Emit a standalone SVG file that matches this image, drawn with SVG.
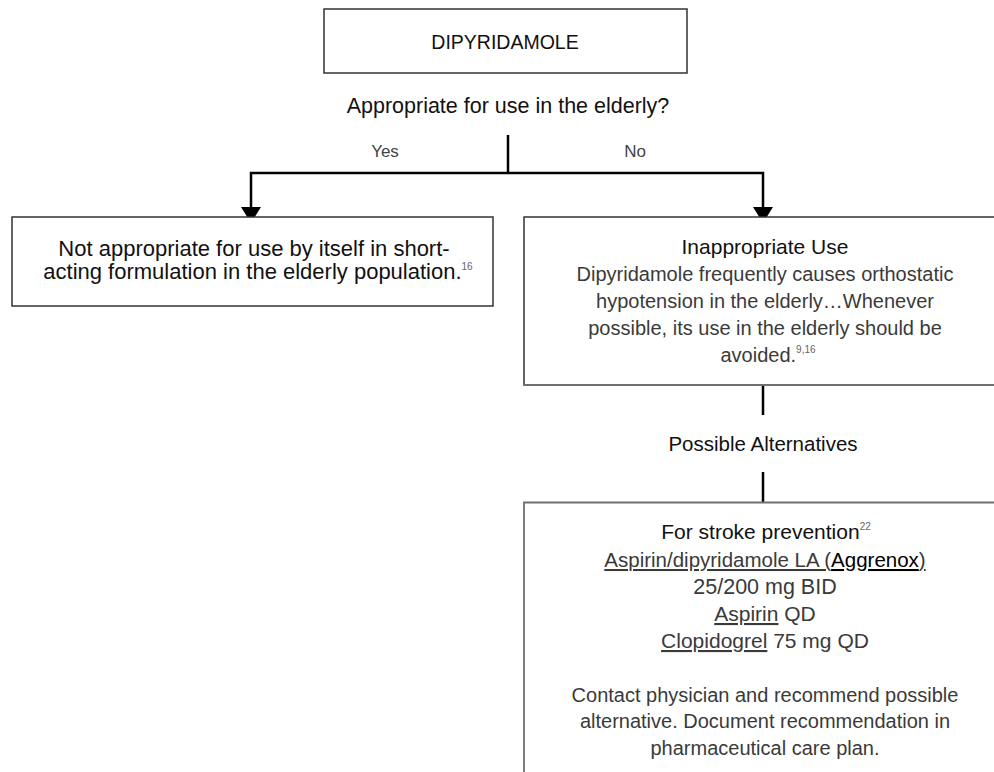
<svg xmlns="http://www.w3.org/2000/svg" width="994" height="772" viewBox="0 0 994 772">
  <style>
    text { font-family: "Liberation Sans", Arial, sans-serif; text-anchor: middle; }
    .head { fill: #111; font-size: 21px; }
    .light { fill: #3a3a3a; font-size: 20px; }
    .yn { fill: #444; font-size: 17px; }
    .sup { font-size: 10px; fill: #666; }
    .box { fill: #fff; stroke: #333; stroke-width: 1.5; }
    .gray { fill: none; stroke: #707070; stroke-width: 1.8; }
    .conn { fill: none; stroke: #000; stroke-width: 2.5; }
    .u { text-decoration: underline; }
  </style>
  <defs>
    <marker id="arrow" markerUnits="userSpaceOnUse" viewBox="0 0 16 20" markerWidth="16" markerHeight="20" refX="16" refY="10" orient="auto">
      <path d="M0,0 L16,10 L0,20 Z" fill="#000"/>
    </marker>
  </defs>
  <rect width="994" height="772" fill="#fff"/>

  <g id="connectors">
    <path class="conn" d="M508,135 V173"/>
    <path class="conn" d="M508,173 H251 V223" marker-end="url(#arrow)"/>
    <path class="conn" d="M508,173 H763 V223" marker-end="url(#arrow)"/>
    <path class="conn" d="M763,385 V415"/>
    <path class="conn" d="M763,472 V502"/>
  </g>

  <g id="node-dipyridamole">
    <rect class="box" x="324" y="9" width="363" height="64"/>
    <text class="head" x="505" y="49" style="font-size:19.5px">DIPYRIDAMOLE</text>
  </g>

  <g id="question">
    <text class="head" x="508" y="113" style="font-size:21.5px">Appropriate for use in the elderly?</text>
  </g>

  <g id="label-yes">
    <text class="yn" x="385" y="157">Yes</text>
  </g>
  <g id="label-no">
    <text class="yn" x="635" y="157">No</text>
  </g>

  <g id="node-not-appropriate">
    <rect class="box" x="12" y="217" width="481" height="89"/>
    <text class="head" x="254" y="256" style="font-size:22px">Not appropriate for use by itself in short-</text>
    <text class="head" x="258" y="279" style="font-size:22px">acting formulation in the elderly population.<tspan class="sup" dy="-9">16</tspan></text>
  </g>

  <g id="node-inappropriate-use">
    <path class="box" d="M1000,217 H524 V385 H1000"/>
    <path class="gray" d="M524,385 H1000"/>
    <text class="head" x="765" y="254">Inappropriate Use</text>
    <text class="light" x="765" y="281">Dipyridamole frequently causes orthostatic</text>
    <text class="light" x="765" y="308">hypotension in the elderly…Whenever</text>
    <text class="light" x="765" y="335">possible, its use in the elderly should be</text>
    <text class="light" x="768" y="362">avoided.<tspan class="sup" dy="-9">9,16</tspan></text>
  </g>

  <g id="possible-alternatives">
    <text class="head" x="763" y="451" style="font-size:20.5px">Possible Alternatives</text>
  </g>

  <g id="node-alternatives">
    <path class="gray" d="M1000,502.5 H524 V780"/>
    <text class="head" x="766" y="539">For stroke prevention<tspan class="sup" dy="-9">22</tspan></text>
    <text class="light" x="765" y="567" style="font-size:20.5px"><tspan class="u">Aspirin/dipyridamole LA (</tspan><tspan class="u" fill="#000">Aggrenox</tspan><tspan class="u">)</tspan></text>
    <text class="light" x="765" y="594" style="font-size:21.5px">25/200 mg BID</text>
    <text class="light" x="765" y="621" style="font-size:21px"><tspan class="u">Aspirin</tspan> QD</text>
    <text class="light" x="765" y="648" style="font-size:21px"><tspan class="u">Clopidogrel</tspan> 75 mg QD</text>
    <text class="light" x="765" y="702">Contact physician and recommend possible</text>
    <text class="light" x="765" y="728">alternative. Document recommendation in</text>
    <text class="light" x="765" y="755">pharmaceutical care plan.</text>
  </g>
</svg>
